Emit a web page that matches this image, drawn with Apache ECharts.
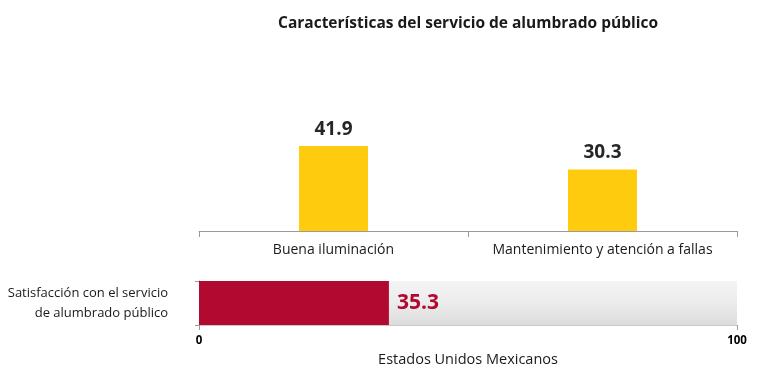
<!DOCTYPE html>
<html><head><meta charset="utf-8">
<script src="https://cdn.jsdelivr.net/npm/echarts@6/dist/echarts.min.js"></script>
<style>html,body{margin:0;padding:0;background:#fff}#c{width:769px;height:379px}</style>
</head><body><div id="c"></div>
<script>
const titleText = 'Características del servicio de alumbrado público';
const topCategories = ['Buena iluminación', 'Mantenimiento y atención a fallas'];
const topValues = [41.9, 30.3];
const bottomCategories = ['Satisfacción con el servicio\nde alumbrado público'];
const bottomValues = [35.3];
const bottomAxisName = 'Estados Unidos Mexicanos';
const FONT = '"Open Sans", "Noto Sans", sans-serif';

const chart = echarts.init(document.getElementById('c'));
chart.setOption({
  animation: false,
  textStyle: { fontFamily: FONT },
  title: {
    text: titleText, left: 463, textAlign: 'center', top: 11,
    textStyle: { fontFamily: FONT, fontSize: 15.5, fontWeight: 'bold', color: '#1a1a1a' }
  },
  grid: [
    { left: 199, width: 538, top: 28, height: 203 },
    { left: 199, width: 538, top: 281, height: 44 }
  ],
  xAxis: [
    {
      gridIndex: 0, type: 'category', data: topCategories,
      axisLine: { lineStyle: { color: '#9a9a9a' } },
      axisTick: { show: true, interval: 0, length: 6, lineStyle: { color: '#9a9a9a' } },
      axisLabel: { interval: 0, color: '#1a1a1a', fontSize: 14, margin: 12, fontFamily: FONT }
    },
    {
      gridIndex: 1, type: 'value', min: 0, max: 100, interval: 100,
      name: bottomAxisName, nameLocation: 'middle', nameGap: 27,
      nameTextStyle: { color: '#1a1a1a', fontSize: 14.5, fontFamily: FONT },
      splitLine: { show: false },
      axisLine: { show: true, lineStyle: { color: '#c8c8c8' } },
      axisTick: { show: true, length: 5, lineStyle: { color: '#9a9a9a' } },
      axisLabel: { color: '#000', fontSize: 11.5, fontWeight: 'bold', margin: 10, fontFamily: FONT }
    }
  ],
  yAxis: [
    { gridIndex: 0, type: 'value', min: 0, max: 100, show: false },
    {
      gridIndex: 1, type: 'category', data: bottomCategories,
      axisLine: { show: true, lineStyle: { color: '#9a9a9a' } },
      axisTick: { show: true, length: 4, lineStyle: { color: '#9a9a9a' } },
      axisLabel: { color: '#1a1a1a', fontSize: 13, margin: 31, align: 'right', lineHeight: 20, fontFamily: FONT }
    }
  ],
  series: [
    {
      type: 'bar', xAxisIndex: 0, yAxisIndex: 0, data: topValues,
      barWidth: 69,
      itemStyle: { color: '#FFCB0E' },
      label: { show: true, position: 'top', distance: 7, formatter: p => p.value.toFixed(1),
        color: '#262626', fontSize: 19, fontWeight: 'bold', fontFamily: FONT }
    },
    {
      type: 'bar', xAxisIndex: 1, yAxisIndex: 1, data: bottomValues,
      barWidth: '100%',
      itemStyle: { color: '#B1092F' },
      showBackground: true,
      backgroundStyle: {
        color: new echarts.graphic.LinearGradient(0, 0, 0, 1, [
          { offset: 0, color: '#f4f4f4' },
          { offset: 0.5, color: '#ececec' },
          { offset: 1, color: '#dcdcdc' }
        ])
      },
      label: { show: true, position: 'right', distance: 8, formatter: p => p.value.toFixed(1),
        color: '#B1092F', fontSize: 21, fontWeight: 'bold', fontFamily: FONT }
    }
  ]
});
</script></body></html>
